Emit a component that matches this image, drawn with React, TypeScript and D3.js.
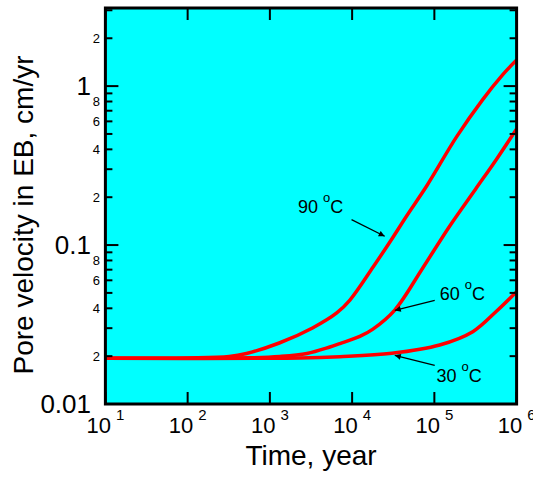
import React from "react";
import * as d3 from "d3";

// ---- data (years, cm/yr) ----
const time90 = [10, 100, 320, 520, 1300, 3300, 6500, 9400, 18000, 30000, 46000, 81000, 186000, 385000, 675000, 1000000];
const vel90 = [0.0194, 0.0195, 0.0199, 0.0208, 0.0242, 0.0301, 0.0374, 0.0451, 0.0728, 0.108, 0.1525, 0.236, 0.479, 0.819, 1.176, 1.46];

const time60 = [10, 570, 1320, 2820, 5360, 7100, 12400, 17900, 33000, 72300, 154000, 318000, 573000, 1000000];
const vel60 = [0.0194, 0.01953, 0.0199, 0.0208, 0.02285, 0.0240, 0.0266, 0.0296, 0.039, 0.0718, 0.1319, 0.2254, 0.3483, 0.538];

const time30 = [10, 2320, 7100, 30400, 116000, 293000, 573000, 1000000];
const vel30 = [0.0194, 0.01948, 0.01985, 0.02085, 0.02351, 0.02851, 0.03848, 0.0509];

const xTickExps = [1, 2, 3, 4, 5, 6];
const yMajorTicks = [0.01, 0.1, 1];
const yMajorLabels = ["0.01", "0.1", "1"];
const yMinorTicks = [0.02, 0.03, 0.04, 0.05, 0.06, 0.07, 0.08, 0.09, 0.2, 0.3, 0.4, 0.5, 0.6, 0.7, 0.8, 0.9, 2, 3];
const yMinorLabelled = [0.02, 0.04, 0.06, 0.08, 0.2, 0.4, 0.6, 0.8, 2];
const yMinorLabels = ["2", "4", "6", "8", "2", "4", "6", "8", "2"];

// annotations: label position and arrow (data coords)
const annoNames = ["90", "60", "30"];
const annoLabelT = [2190, 116000, 106000];
const annoLabelV = [0.158, 0.0449, 0.01374];
const annoArrowFromT = [9840, 101000, 101000];
const annoArrowFromV = [0.1445, 0.0449, 0.0175];
const annoArrowToT = [24900, 33000, 33000];
const annoArrowToV = [0.1135, 0.0388, 0.02024];

const X_DOMAIN = [10, 1e6];
const Y_DOMAIN = [0.01, 3.1];

export default function App() {
  const W = 533, H = 477;
  const left = 105.4, right = 516.6, top = 8, bottom = 404;
  const x = d3.scaleLog().domain(X_DOMAIN).range([left, right]);
  const y = d3.scaleLog().domain(Y_DOMAIN).range([bottom, top]);
  const font = "Arial, 'Liberation Sans', Helvetica, sans-serif";

  const line = d3
    .line<[number, number]>()
    .x((d) => x(d[0]))
    .y((d) => y(d[1]))
    .curve(d3.curveCatmullRom.alpha(0.5));

  const series = [
    d3.zip(time30, vel30) as [number, number][],
    d3.zip(time60, vel60) as [number, number][],
    d3.zip(time90, vel90) as [number, number][],
  ];

  return (
    <svg
      width={W}
      height={H}
      style={{ position: "absolute", left: 0, top: 0, background: "#fff" }}
      fontFamily={font}
    >
      <defs>
        <marker id="ah" viewBox="0 0 10 10" refX="10" refY="5" markerWidth="8" markerHeight="6" markerUnits="userSpaceOnUse" orient="auto">
          <path d="M0,0 L10,5 L0,10 z" fill="#000" />
        </marker>
        <clipPath id="clip">
          <rect x={left} y={top} width={right - left} height={bottom - top} />
        </clipPath>
      </defs>
      <rect x={left} y={top} width={right - left} height={bottom - top} fill="#00FFFF" />

      {/* curves */}
      <g clipPath="url(#clip)">
        {series.map((s, i) => (
          <path key={i} d={line(s) || ""} fill="none" stroke="#FF0000" strokeWidth={3.5} strokeLinejoin="round" />
        ))}
      </g>

      {/* annotations */}
      {annoNames.map((n, i) => (
        <g key={n}>
          <line
            x1={x(annoArrowFromT[i])}
            y1={y(annoArrowFromV[i])}
            x2={x(annoArrowToT[i])}
            y2={y(annoArrowToV[i])}
            stroke="#000"
            strokeWidth={1.2}
            markerEnd="url(#ah)"
          />
          <text x={x(annoLabelT[i])} y={y(annoLabelV[i])} fontSize={18} fill="#000">
            {n + " "}
            <tspan fontSize={13} dy={-11}>o</tspan>
            <tspan dy={11}>C</tspan>
          </text>
        </g>
      ))}

      {/* x ticks */}
      {xTickExps.map((e) => {
        const px = x(Math.pow(10, e));
        return (
          <g key={"x" + e}>
            <line x1={px} x2={px} y1={bottom} y2={bottom - 12} stroke="#000" strokeWidth={2} />
            <line x1={px} x2={px} y1={top} y2={top + 12} stroke="#000" strokeWidth={2} />
            <text x={px} y={433} fontSize={22} textAnchor="middle" fill="#000">
              10
              <tspan dx={5} dy={-13} fontSize={15}>{String(e)}</tspan>
            </text>
          </g>
        );
      })}

      {/* y ticks */}
      {yMajorTicks.map((v, i) => (
        <g key={"ym" + v}>
          <line x1={left} x2={left + 13} y1={y(v)} y2={y(v)} stroke="#000" strokeWidth={2} />
          <line x1={right} x2={right - 13} y1={y(v)} y2={y(v)} stroke="#000" strokeWidth={2} />
          <text x={91} y={y(v)} dy="0.36em" fontSize={26} textAnchor="end" fill="#000">
            {yMajorLabels[i]}
          </text>
        </g>
      ))}
      {yMinorTicks.map((v) => (
        <g key={"yn" + v}>
          <line x1={left} x2={left + 7} y1={y(v)} y2={y(v)} stroke="#000" strokeWidth={2} />
          <line x1={right} x2={right - 7} y1={y(v)} y2={y(v)} stroke="#000" strokeWidth={2} />
        </g>
      ))}
      {yMinorLabelled.map((v, i) => (
        <text key={"yl" + i} x={100} y={y(v)} dy="0.36em" fontSize={13} textAnchor="end" fill="#000">
          {yMinorLabels[i]}
        </text>
      ))}

      {/* frame */}
      <rect x={left} y={top} width={right - left} height={bottom - top} fill="none" stroke="#000" strokeWidth={3} />

      {/* axis titles */}
      <text x={(left + right) / 2} y={465} fontSize={28} textAnchor="middle" fill="#000">
        Time, year
      </text>
      <text transform={`translate(33,215) rotate(-90)`} fontSize={28} textAnchor="middle" fill="#000">
        Pore velocity in EB, cm/yr
      </text>
    </svg>
  );
}
